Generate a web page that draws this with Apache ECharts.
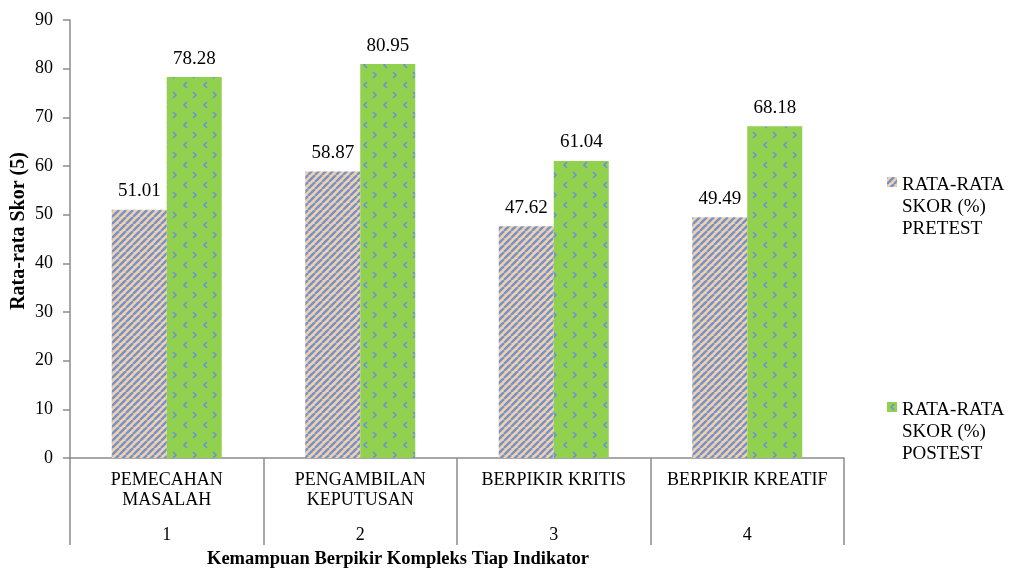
<!DOCTYPE html>
<html>
<head>
<meta charset="utf-8">
<script src="https://cdn.jsdelivr.net/npm/echarts@6/dist/echarts.min.js"></script>
<style>
  html, body { margin: 0; padding: 0; background: #fff; }
  #main { width: 1009px; height: 568px; }
</style>
</head>
<body>
<div id="main"></div>
<script>
// data
const categories = ['PEMECAHAN\nMASALAH', 'PENGAMBILAN\nKEPUTUSAN', 'BERPIKIR KRITIS', 'BERPIKIR KREATIF'];
const categoryNums = ['1', '2', '3', '4'];
const pretest = [51.01, 58.87, 47.62, 49.49];
const posttest = [78.28, 80.95, 61.04, 68.18];
const seriesNames = ['RATA-RATA\nSKOR (%)\nPRETEST', 'RATA-RATA\nSKOR (%)\nPOSTEST'];

const serif = '"Liberation Serif", "DejaVu Serif", serif';

// diagonal stripes for pretest
function stripeCanvas() {
  const s = 7;
  const c = document.createElement('canvas');
  c.width = s; c.height = s;
  const g = c.getContext('2d');
  g.fillStyle = '#f4cfa8';
  g.fillRect(0, 0, s, s);
  g.strokeStyle = '#7094cf';
  g.lineWidth = 2.4;
  for (let k = -1; k <= 1; k++) {
    g.beginPath();
    g.moveTo(k * s, s);
    g.lineTo(k * s + s, 0);
    g.stroke();
  }
  return c;
}

// green with small blue chevrons for postest
function chevronCanvas() {
  const s = 20;
  const c = document.createElement('canvas');
  c.width = s; c.height = s;
  const g = c.getContext('2d');
  g.fillStyle = '#92d050';
  g.fillRect(0, 0, s, s);
  g.strokeStyle = '#6a93cf';
  g.lineWidth = 1.6;
  // "<"
  g.beginPath();
  g.moveTo(7, 2); g.lineTo(4, 5); g.lineTo(7, 8);
  g.stroke();
  // ">"
  g.beginPath();
  g.moveTo(13, 12); g.lineTo(16, 15); g.lineTo(13, 18);
  g.stroke();
  return c;
}

const preColor = { image: stripeCanvas(), repeat: 'repeat' };
const postColor = { image: chevronCanvas(), repeat: 'repeat' };

const chart = echarts.init(document.getElementById('main'));

const valueLabel = {
  show: true, position: 'top', distance: 9,
  fontFamily: serif, fontSize: 19, color: '#000',
  formatter: p => p.value.toFixed(2)
};

const option = {
  backgroundColor: '#fff',
  animation: false,
  textStyle: { fontFamily: serif },
  grid: { left: 70, right: 165, top: 20, bottom: 110, containLabel: false, outerBoundsMode: 'none' },
  legend: {
    orient: 'vertical',
    left: 882,
    top: 169,
    itemGap: 159,
    itemWidth: 10,
    itemHeight: 60,
    icon: 'path://M0,0L10,0L10,10L0,10Z M0,60L0.01,60L0,60Z',
    textStyle: { fontFamily: serif, fontSize: 19, color: '#000', lineHeight: 22 },
    data: seriesNames
  },
  xAxis: {
    type: 'category',
    data: categories,
    axisLine: { show: true, lineStyle: { color: '#8c8c8c', width: 1.5 } },
    axisTick: { show: true, alignWithLabel: false, interval: 0, length: 87, lineStyle: { color: '#8c8c8c', width: 1.5 } },
    axisLabel: {
      interval: 0,
      margin: 12,
      formatter: function (v, i) {
        const lines = v.split('\n');
        if (lines.length < 2) lines.push(' ');
        return lines.map(l => '{n|' + l + '}').join('\n') + '\n{k|' + categoryNums[i] + '}';
      },
      rich: {
        n: { fontFamily: serif, fontSize: 18, color: '#000', lineHeight: 20 },
        k: { fontFamily: serif, fontSize: 18, color: '#000', lineHeight: 50 }
      }
    }
  },
  yAxis: {
    type: 'value',
    min: 0,
    max: 90,
    interval: 10,
    name: 'Rata-rata Skor (5)',
    nameLocation: 'middle',
    nameGap: 41,
    nameMoveOverlap: false,
    nameTextStyle: { fontFamily: serif, fontSize: 20, fontWeight: 'bold', color: '#000', padding: [0, 0, 0, 16] },
    axisLine: { show: true, lineStyle: { color: '#8c8c8c', width: 1.5 } },
    axisTick: { show: true, length: 7, lineStyle: { color: '#8c8c8c', width: 1.5 } },
    axisLabel: { fontFamily: serif, fontSize: 18, color: '#000', margin: 17 },
    splitLine: { show: false }
  },
  graphic: [{
    type: 'text',
    left: 207,
    top: 550,
    style: {
      text: 'Kemampuan Berpikir Kompleks Tiap Indikator',
      font: 'bold 18.5px ' + serif,
      fill: '#000'
    }
  }],
  series: [
    {
      name: seriesNames[0],
      type: 'bar',
      data: pretest,
      barWidth: 55,
      barGap: '0%',
      itemStyle: { color: preColor },
      label: valueLabel
    },
    {
      name: seriesNames[1],
      type: 'bar',
      data: posttest,
      barWidth: 55,
      barGap: '0%',
      itemStyle: { color: postColor },
      label: valueLabel
    }
  ]
};

chart.setOption(option);
</script>
</body>
</html>
